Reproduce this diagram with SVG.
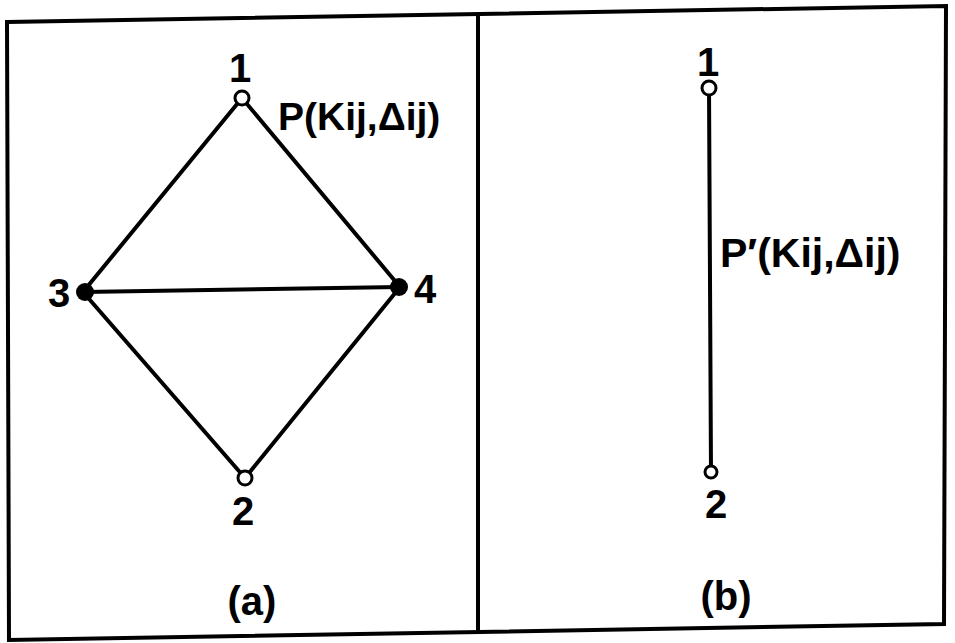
<svg xmlns="http://www.w3.org/2000/svg" width="955" height="643" viewBox="0 0 955 643">
<style>
.t{font-family:"Liberation Sans","DejaVu Sans",Arial,sans-serif;font-weight:bold;fill:#000}
.e{stroke:#000;stroke-width:4;fill:none;stroke-linecap:round}
.f{stroke:#000;stroke-width:4;fill:none}
.o{fill:#fff;stroke:#000;stroke-width:3}
.s{fill:#000;stroke:none}
</style>
<rect width="955" height="643" fill="#fff"/>
<g id="frame">
<polygon class="f" points="7,22 946,6 944,624 9,640"/>
<line class="f" x1="478" y1="14" x2="478" y2="632"/>
</g>
<g id="connectors">
<line class="e" x1="242" y1="98" x2="83" y2="292"/>
<line class="e" x1="242" y1="98" x2="400" y2="287"/>
<line class="e" x1="83" y1="292" x2="400" y2="287"/>
<line class="e" x1="83" y1="292" x2="245" y2="478"/>
<line class="e" x1="400" y1="287" x2="245" y2="478"/>
<line class="e" x1="709" y1="88" x2="711" y2="472"/>
</g>
<g id="a-node1"><circle class="o" cx="242" cy="98" r="7"/><text class="t" x="240" y="82" font-size="40" text-anchor="middle">1</text></g>
<g id="a-node2"><circle class="o" cx="245" cy="478" r="7"/><text class="t" x="243" y="525" font-size="40" text-anchor="middle">2</text></g>
<g id="a-node3"><circle class="s" cx="85" cy="292" r="9"/><text class="t" x="59" y="307" font-size="40" text-anchor="middle">3</text></g>
<g id="a-node4"><circle class="s" cx="399" cy="287" r="9"/><text class="t" x="425" y="303" font-size="40" text-anchor="middle">4</text></g>
<g id="a-label"><text class="t" x="278" y="130" font-size="39">P(Kij,Δij)</text></g>
<g id="a-caption"><text class="t" x="252" y="615" font-size="40" text-anchor="middle">(a)</text></g>
<g id="b-node1"><circle class="o" cx="709" cy="88" r="7"/><text class="t" x="708" y="76" font-size="40" text-anchor="middle">1</text></g>
<g id="b-node2"><circle class="o" cx="711" cy="472" r="6"/><text class="t" x="716" y="518" font-size="40" text-anchor="middle">2</text></g>
<g id="b-label"><text class="t" x="720" y="267" font-size="41">P′(Kij,Δij)</text></g>
<g id="b-caption"><text class="t" x="726" y="610" font-size="40" text-anchor="middle">(b)</text></g>
</svg>
